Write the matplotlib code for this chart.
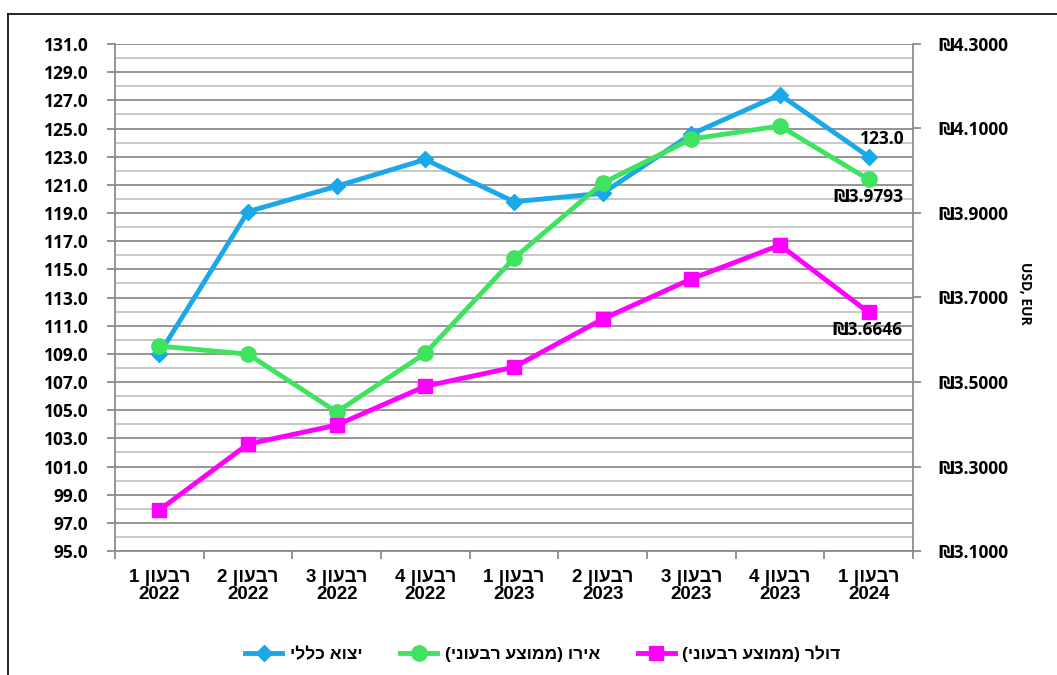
import numpy as np
import matplotlib
matplotlib.use('Agg')
import matplotlib.pyplot as plt
from matplotlib.lines import Line2D
from matplotlib.ticker import FixedLocator, FuncFormatter

# ── Data ─────────────────────────────────────────────────────────────
quarters = ['רבעון 1', 'רבעון 2', 'רבעון 3', 'רבעון 4', 'רבעון 1',
            'רבעון 2', 'רבעון 3', 'רבעון 4', 'רבעון 1']
years = ['2022', '2022', '2022', '2022', '2023', '2023', '2023', '2023', '2024']

export_idx = [109.0, 119.1, 120.9, 122.8, 119.8, 120.4, 124.6, 127.4, 123.0]
euro = [3.585, 3.566, 3.429, 3.568, 3.793, 3.971, 4.075, 4.106, 3.9793]
dollar = [3.197, 3.353, 3.398, 3.490, 3.535, 3.649, 3.744, 3.824, 3.6646]

series_names = ['יצוא כללי', 'אירו (ממוצע רבעוני)', 'דולר (ממוצע רבעוני)']

BLUE = '#1BA8EA'
GREEN = '#3FE35F'
MAGENTA = '#FF00FF'
NUM_FONT = ['Open Sans', 'DejaVu Sans']
HEB_FONT = ['Liberation Sans Narrow', 'Liberation Sans', 'DejaVu Sans']


def visual(s):
    """Hebrew text in left-to-right drawing order (matplotlib has no bidi)."""
    swap = {'(': ')', ')': '('}
    return ''.join(swap.get(c, c) for c in s[::-1])


fig = plt.figure(figsize=(10.57, 6.75), dpi=100)
fig.patch.set_facecolor('white')

# outer frame (left and top edges visible)
fig.add_artist(Line2D([8 / 1057, 8 / 1057], [0, 1 - 14 / 675],
                      color='black', lw=1.2, transform=fig.transFigure))
fig.add_artist(Line2D([8 / 1057, 1], [1 - 14 / 675, 1 - 14 / 675],
                      color='black', lw=1.2, transform=fig.transFigure))

ax = fig.add_axes([115 / 1057, 1 - 551 / 675, (913 - 115) / 1057, (551 - 44) / 675])
x = np.arange(len(quarters))

ax.set_xlim(-0.5, len(quarters) - 0.5)
ax.set_ylim(95, 131)
ax.yaxis.set_major_locator(FixedLocator(np.arange(95, 131.1, 2)))
ax.yaxis.set_minor_locator(FixedLocator(np.arange(96, 131, 2)))
ax.yaxis.set_major_formatter(FuncFormatter(lambda v, p: f'{v:.1f}'))
ax.grid(axis='y', which='major', color='#8C8C8C', lw=1.3)
ax.grid(axis='y', which='minor', color='#C4C4C4', lw=1.3)
ax.set_axisbelow(True)
ax.tick_params(axis='y', which='major', direction='out', length=6,
               color='#8C8C8C', width=1.3, pad=13)
ax.tick_params(axis='y', which='minor', length=0)

# category ticks sit on the boundaries, labels at centers
ax.set_xticks(np.arange(-0.5, len(quarters), 1))
ax.set_xticklabels([])
ax.set_xticks(x, minor=True)
ax.set_xticklabels([visual(q) + '\n' + y for q, y in zip(quarters, years)],
                   minor=True)
ax.tick_params(axis='x', which='major', direction='out', length=6,
               color='#8C8C8C', width=1.3)
ax.tick_params(axis='x', which='minor', length=0, pad=13)
for lab in ax.get_xticklabels(minor=True):
    lab.set_fontfamily(HEB_FONT)
    lab.set_fontweight('bold')
    lab.set_fontsize(13.5)
    lab.set_linespacing(1.0)
for lab in ax.get_yticklabels():
    lab.set_fontfamily(NUM_FONT)
    lab.set_fontweight('bold')
    lab.set_fontsize(12.5)

for sp in ['top', 'right']:
    ax.spines[sp].set_visible(False)
for sp in ['left', 'bottom']:
    ax.spines[sp].set_color('#8C8C8C')
    ax.spines[sp].set_linewidth(1.3)

ax2 = ax.twinx()
ax2.set_ylim(3.1, 4.3)
ax2.yaxis.set_major_locator(FixedLocator(np.arange(3.1, 4.31, 0.2)))
ax2.yaxis.set_major_formatter(FuncFormatter(lambda v, p: f'₪{v:.4f}'))
ax2.tick_params(axis='y', direction='out', length=6, color='#8C8C8C',
                width=1.3, pad=12)
for lab in ax2.get_yticklabels():
    lab.set_fontfamily(NUM_FONT)
    lab.set_fontweight('bold')
    lab.set_fontsize(12.5)
for sp in ['top', 'left', 'bottom']:
    ax2.spines[sp].set_visible(False)
ax2.spines['right'].set_color('#8C8C8C')
ax2.spines['right'].set_linewidth(1.3)
fig.text(1025 / 1057, 1 - 293 / 675, 'USD, EUR', rotation=-90,
         ha='center', va='center', fontfamily=NUM_FONT,
         fontweight='bold', fontsize=10)

h1, = ax.plot(x, export_idx, color=BLUE, lw=3.5, marker='D', ms=8,
              zorder=3, label=visual(series_names[0]))
h2, = ax2.plot(x, euro, color=GREEN, lw=3.5, marker='o', ms=11,
               zorder=3, label=visual(series_names[1]))
h3, = ax2.plot(x, dollar, color=MAGENTA, lw=3.5, marker='s', ms=10,
               zorder=3, label=visual(series_names[2]))

# last-point labels
ax.annotate(f'{export_idx[-1]:.1f}', (x[-1], export_idx[-1]), xytext=(10, 6),
            textcoords='offset points', ha='center', va='bottom',
            fontfamily=NUM_FONT, fontweight='bold', fontsize=12.5)
ax2.annotate(f'₪{euro[-1]:.4f}', (x[-1], euro[-1]), xytext=(0, -6),
             textcoords='offset points', ha='center', va='top',
             fontfamily=NUM_FONT, fontweight='bold', fontsize=12.5)
ax2.annotate(f'₪{dollar[-1]:.4f}', (x[-1], dollar[-1]), xytext=(-1, -6),
             textcoords='offset points', ha='center', va='top',
             fontfamily=NUM_FONT, fontweight='bold', fontsize=12.5)

fig.legend(handles=[h1, h2, h3], loc='center', ncol=3,
           bbox_to_anchor=(543 / 1057, 1 - 654 / 675), frameon=False,
           prop={'family': HEB_FONT, 'weight': 'bold', 'size': 12.5},
           handlelength=2.1, columnspacing=2.2, handletextpad=0.45)

fig.savefig('out.png', dpi=100, facecolor='white')
